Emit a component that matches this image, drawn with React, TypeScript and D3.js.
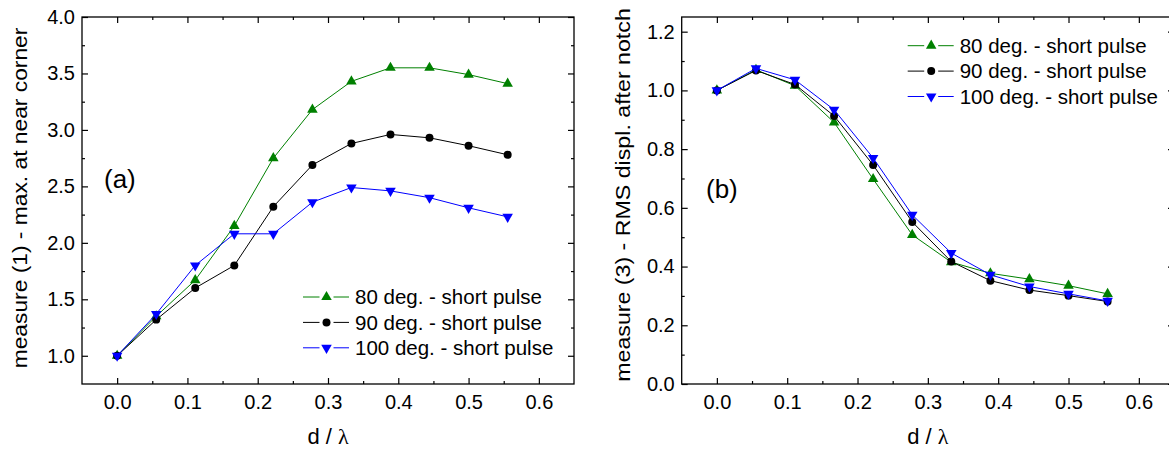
import React, { useEffect, useRef } from "react";
import * as d3 from "d3";

// d / lambda positions (same for both panels)
const dLambda = [0, 0.0556, 0.1111, 0.1667, 0.2222, 0.2778, 0.3333, 0.3889, 0.4444, 0.5, 0.5556];

// panel (a): measure (1) - max. at near corner
const m1_80 = [1.0, 1.35, 1.67, 2.15, 2.75, 3.18, 3.43, 3.55, 3.55, 3.49, 3.41];
const m1_90 = [1.0, 1.32, 1.6, 1.8, 2.32, 2.69, 2.88, 2.96, 2.93, 2.86, 2.78];
const m1_100 = [1.0, 1.37, 1.8, 2.08, 2.08, 2.36, 2.49, 2.46, 2.4, 2.31, 2.23];

// panel (b): measure (3) - RMS displ. after notch
const m3_80 = [1.0, 1.07, 1.016, 0.891, 0.698, 0.508, 0.415, 0.377, 0.357, 0.335, 0.307];
const m3_90 = [1.0, 1.068, 1.02, 0.913, 0.746, 0.552, 0.417, 0.352, 0.32, 0.301, 0.281];
const m3_100 = [1.0, 1.075, 1.036, 0.934, 0.77, 0.576, 0.446, 0.372, 0.332, 0.307, 0.283];

const seriesNames = ["80 deg. - short pulse", "90 deg. - short pulse", "100 deg. - short pulse"];
const seriesColors = ["#008000", "#000000", "#0000ff"];
const seriesMarkers = ["up", "circle", "down"];

const xMajor = [0, 0.1, 0.2, 0.3, 0.4, 0.5, 0.6];
const xMinor = [0.05, 0.15, 0.25, 0.35, 0.45, 0.55];
const yMajorA = [1.0, 1.5, 2.0, 2.5, 3.0, 3.5, 4.0];
const yMinorA = [1.25, 1.75, 2.25, 2.75, 3.25, 3.75];
const yMajorB = [0, 0.2, 0.4, 0.6, 0.8, 1.0, 1.2];
const yMinorB = [0.1, 0.3, 0.5, 0.7, 0.9, 1.1];

const FONT = "'Liberation Sans', Arial, sans-serif";

export default function App() {
    const ref = useRef(null);

    useEffect(() => {
        const width = 1169, height = 450;
        const svg = d3.select(ref.current);
        svg.selectAll("*").remove();
        svg.attr("width", width).attr("height", height);

        const panels = [
            {
                left: 82, right: 574, top: 17, bottom: 384,
                yDomain: [0.75, 4.0], yMajor: yMajorA, yMinor: yMinorA,
                data: [m1_80, m1_90, m1_100],
                title: "measure (1) - max. at near corner", titleX: 20, titleY: 198, titleScale: 1.14,
                tag: "(a)", tagX: 104, tagY: 188,
                legX: 303, legY: 297,
            },
            {
                left: 681.7, right: 1174, top: 17, bottom: 384,
                yDomain: [0, 1.25], yMajor: yMajorB, yMinor: yMinorB,
                data: [m3_80, m3_90, m3_100],
                title: "measure (3) - RMS displ. after notch", titleX: 623, titleY: 195, titleScale: 1.16,
                tag: "(b)", tagX: 706, tagY: 198,
                legX: 907.7, legY: 45.7,
            },
        ];

        panels.forEach(p => {
            const x = d3.scaleLinear().domain([-0.05, 0.65]).range([p.left, p.right]);
            const y = d3.scaleLinear().domain(p.yDomain).range([p.bottom, p.top]);

            const styleAxis = (g, showText) => {
                g.select(".domain").remove();
                g.selectAll("line").attr("stroke", "#000").attr("stroke-width", 1.2);
                g.selectAll("text").attr("font-family", FONT).attr("font-size", 20).attr("fill", "#000");
                if (!showText) g.selectAll("text").remove();
            };

            // bottom
            svg.append("g").attr("transform", `translate(0,${p.bottom})`)
                .call(d3.axisBottom(x).tickValues(xMajor).tickSize(-6).tickPadding(11).tickFormat(d3.format(".1f")))
                .call(g => styleAxis(g, true));
            svg.append("g").attr("transform", `translate(0,${p.bottom})`)
                .call(d3.axisBottom(x).tickValues(xMinor).tickSize(-3).tickFormat(() => ""))
                .call(g => styleAxis(g, false));
            // top
            svg.append("g").attr("transform", `translate(0,${p.top})`)
                .call(d3.axisTop(x).tickValues(xMajor).tickSize(-6).tickFormat(() => ""))
                .call(g => styleAxis(g, false));
            svg.append("g").attr("transform", `translate(0,${p.top})`)
                .call(d3.axisTop(x).tickValues(xMinor).tickSize(-3).tickFormat(() => ""))
                .call(g => styleAxis(g, false));
            // left
            svg.append("g").attr("transform", `translate(${p.left},0)`)
                .call(d3.axisLeft(y).tickValues(p.yMajor).tickSize(-6).tickPadding(7).tickFormat(d3.format(".1f")))
                .call(g => styleAxis(g, true));
            svg.append("g").attr("transform", `translate(${p.left},0)`)
                .call(d3.axisLeft(y).tickValues(p.yMinor).tickSize(-3).tickFormat(() => ""))
                .call(g => styleAxis(g, false));
            // right
            svg.append("g").attr("transform", `translate(${p.right},0)`)
                .call(d3.axisRight(y).tickValues(p.yMajor).tickSize(-6).tickFormat(() => ""))
                .call(g => styleAxis(g, false));
            svg.append("g").attr("transform", `translate(${p.right},0)`)
                .call(d3.axisRight(y).tickValues(p.yMinor).tickSize(-3).tickFormat(() => ""))
                .call(g => styleAxis(g, false));

            // frame
            svg.append("rect")
                .attr("x", p.left).attr("y", p.top)
                .attr("width", p.right - p.left).attr("height", p.bottom - p.top)
                .attr("fill", "none").attr("stroke", "#000").attr("stroke-width", 1.3);

            const symbolFor = m => {
                if (m === "circle") return d3.symbol().type(d3.symbolCircle).size(50)();
                return d3.symbol().type(d3.symbolTriangle).size(48)();
            };
            const rot = m => (m === "down" ? " rotate(180)" : "");

            // series (80, 90, 100 so blue sits on top)
            p.data.forEach((vals, si) => {
                const pts = vals.map((v, i) => [dLambda[i], v]);
                const line = d3.line().x(d => x(d[0])).y(d => y(d[1]));
                svg.append("path")
                    .attr("d", line(pts))
                    .attr("fill", "none")
                    .attr("stroke", seriesColors[si])
                    .attr("stroke-width", 1);
                svg.append("g").selectAll("path")
                    .data(pts)
                    .enter()
                    .append("path")
                    .attr("d", symbolFor(seriesMarkers[si]))
                    .attr("transform", d => `translate(${x(d[0])},${y(d[1])})${rot(seriesMarkers[si])}`)
                    .attr("fill", seriesColors[si]);
            });

            // legend
            seriesNames.forEach((name, si) => {
                const ly = p.legY + si * 25.4;
                const mx = p.legX + 23.5;
                svg.append("line").attr("x1", p.legX).attr("x2", mx - 7).attr("y1", ly).attr("y2", ly)
                    .attr("stroke", seriesColors[si]).attr("stroke-width", 1);
                svg.append("line").attr("x1", mx + 7).attr("x2", p.legX + 46).attr("y1", ly).attr("y2", ly)
                    .attr("stroke", seriesColors[si]).attr("stroke-width", 1);
                svg.append("path")
                    .attr("d", symbolFor(seriesMarkers[si]))
                    .attr("transform", `translate(${mx},${ly})${rot(seriesMarkers[si])}`)
                    .attr("fill", seriesColors[si]);
                svg.append("text")
                    .attr("x", p.legX + 52).attr("y", ly).attr("dy", "0.35em")
                    .attr("font-family", FONT).attr("font-size", 20.5)
                    .text(name);
            });

            // panel tag
            svg.append("text")
                .attr("x", p.tagX).attr("y", p.tagY)
                .attr("font-family", FONT).attr("font-size", 26)
                .text(p.tag);

            // y title
            svg.append("text")
                .attr("transform", `translate(${p.titleX},${p.titleY}) rotate(-90) scale(${p.titleScale},1)`)
                .attr("text-anchor", "middle").attr("dy", "0.35em")
                .attr("font-family", FONT).attr("font-size", 20)
                .text(p.title);

            // x title
            const xt = svg.append("text")
                .attr("x", x(0.3)).attr("y", 444)
                .attr("text-anchor", "middle")
                .attr("font-family", FONT).attr("font-size", 22);
            xt.append("tspan").text("d / ");
            xt.append("tspan").attr("font-family", "'Liberation Serif', serif").text("λ");
        });
    }, []);

    return (
        <div style={{ position: "absolute", left: 0, top: 0 }}>
            <svg ref={ref}></svg>
        </div>
    );
}
